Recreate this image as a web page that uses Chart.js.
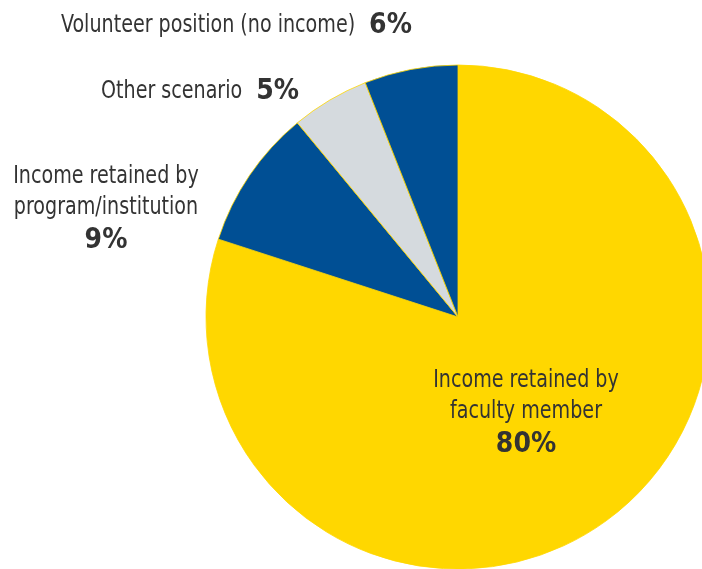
<!DOCTYPE html>
<html>
<head>
<meta charset="utf-8">
<script src="https://cdn.jsdelivr.net/npm/chart.js@4/dist/chart.umd.min.js"></script>
<style>
  html, body { margin: 0; padding: 0; background: #fff; overflow: hidden; }
  #wrap { width: 702px; height: 569px; }
</style>
</head>
<body>
<div id="wrap"><canvas id="pieChart" width="702" height="569"></canvas></div>
<script>
const categories = [
    "Income retained by faculty member",
    "Income retained by program/institution",
    "Other scenario",
    "Volunteer position (no income)"
];
const shares = [80, 9, 5, 6];
const sliceColors = ["#FFD700", "#004F94", "#D5DADE", "#004F94"];

// label text lines per slice, the percentage is appended from shares
const labelLines = [
    ["Income retained by", "faculty member"],
    ["Income retained by", "program/institution"],
    ["Other scenario"],
    ["Volunteer position (no income)"]
];

const textFont = "'Liberation Sans Narrow', 'DejaVu Sans Condensed', sans-serif";
const textColor = "#333333";
const squeeze = 0.885; // narrow the regular text a bit more

// where each label block sits: inline ones put the % after the text,
// stacked ones put it on its own line under the text
const labelSpots = [
    { x: 526, y: 387, mode: "stack" },
    { x: 106, y: 183, mode: "stack" },
    { x: 101, y: 98, mode: "inline" },
    { x: 61, y: 32, mode: "inline" }
];

function squeezedText(ctx, text, x, y, align) {
    ctx.save();
    ctx.translate(x, y);
    ctx.scale(squeeze, 1);
    ctx.textAlign = align;
    ctx.fillText(text, 0, 0);
    ctx.restore();
    return ctx.measureText(text).width * squeeze;
}

const pieLabels = {
    id: "pieLabels",
    afterDatasetsDraw(chart) {
        const ctx = chart.ctx;
        ctx.save();
        ctx.fillStyle = textColor;
        ctx.textBaseline = "alphabetic";
        labelLines.forEach((lines, i) => {
            const spot = labelSpots[i];
            const pct = shares[i] + "%";
            if (spot.mode === "inline") {
                ctx.font = "24px " + textFont;
                const w = squeezedText(ctx, lines[0], spot.x, spot.y, "left");
                ctx.font = "bold 28px " + textFont;
                ctx.textAlign = "left";
                ctx.fillText(pct, spot.x + w + 14, spot.y + 1);
            } else {
                ctx.font = "24px " + textFont;
                lines.forEach((line, j) => squeezedText(ctx, line, spot.x, spot.y + j * 31, "center"));
                ctx.font = "bold 28px " + textFont;
                ctx.textAlign = "center";
                ctx.fillText(pct, spot.x, spot.y + lines.length * 31 + 3);
            }
        });
        ctx.restore();
    }
};

const ctxPie = document.getElementById("pieChart").getContext("2d");
const pieChart = new Chart(ctxPie, {
    type: "pie",
    data: {
        labels: categories,
        datasets: [{
            data: shares,
            backgroundColor: sliceColors,
            borderColor: "#FFD700",
            borderWidth: 0.8,
            clip: false
        }]
    },
    options: {
        responsive: false,
        animation: false,
        radius: 252,
        layout: { padding: { left: 214, right: 0, top: 65, bottom: 0 } },
        plugins: {
            legend: { display: false },
            tooltip: { enabled: false }
        }
    },
    plugins: [pieLabels]
});
</script>
</body>
</html>
